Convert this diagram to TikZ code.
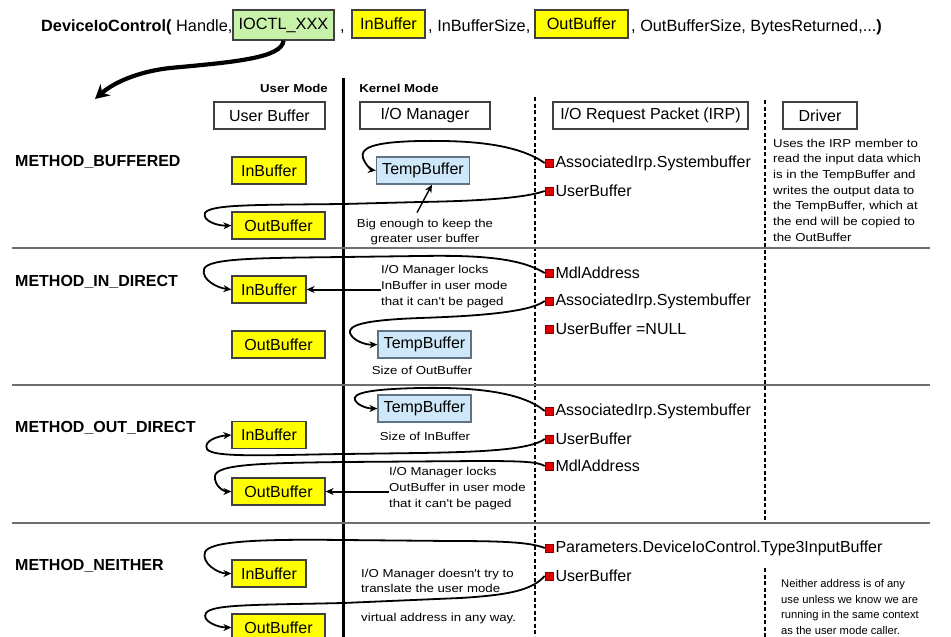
\documentclass[tikz,border=0pt]{standalone}
\usepackage{fontspec}
\setmainfont{Liberation Sans}
\newfontfamily\notefont[FakeStretch=1.15]{Liberation Sans}
\usetikzlibrary{arrows.meta}
\definecolor{bufyellow}{RGB}{255,255,0}
\definecolor{ctlgreen}{RGB}{200,242,170}
\definecolor{tmpblue}{RGB}{206,232,250}
\definecolor{tmpedge}{RGB}{95,115,135}
\definecolor{sepgray}{RGB}{110,110,110}
\definecolor{irpred}{RGB}{225,0,0}

\tikzset{
  title/.style={font=\fontsize{16.3}{19}\selectfont, inner sep=0pt, anchor=base west},
  main/.style={font=\fontsize{16}{19}\selectfont},
  note/.style={font=\notefont\fontsize{11.5}{15.7}\selectfont, inner sep=0pt, align=left},
  boxed/.style={main, draw=black!75, line width=1.2pt, minimum height=27pt, inner sep=0pt},
  ybuf/.style={boxed, fill=bufyellow},
  inbuf/.style={ybuf, minimum width=74pt},
  outbuf/.style={ybuf, minimum width=93pt},
  tmpbuf/.style={boxed, fill=tmpblue, draw=tmpedge, minimum width=93pt},
  header/.style={boxed, fill=white},
  method/.style={font=\fontsize{16}{19}\selectfont\bfseries, anchor=west, inner sep=0pt},
  sq/.style={draw=red!50!black, fill=irpred, minimum size=8pt, inner sep=0pt, line width=0.6pt},
  member/.style={main, anchor=west, inner sep=0pt, xshift=2pt},
  link/.style={line width=1.8pt, -{Stealth[length=8pt,width=7pt]}},
  sep/.style={sepgray, line width=2pt},
  lane/.style={line width=1.8pt, dash pattern=on 4pt off 2.5pt},
}

\begin{document}
\begin{tikzpicture}[x=1pt,y=-1pt]
\useasboundingbox (0,0) rectangle (951,637);

% ---- the call signature ----
\node[title, font=\fontsize{16.3}{19}\selectfont\bfseries] (callname) at (41,31) {DeviceIoControl(};
\node[title] (handle) at (176,31) {Handle,};
\node[boxed, fill=ctlgreen, minimum width=101pt, minimum height=30pt, font=\fontsize{16.3}{19}\selectfont] (ioctl) at (283.5,25) {IOCTL\_XXX};
\node[title] (comma1) at (340,31) {,};
\node[ybuf, minimum width=73pt, minimum height=28pt, font=\fontsize{16.3}{19}\selectfont] (inb0) at (388.5,24) {InBuffer};
\node[title] (insize) at (428,31) {, InBufferSize,};
\node[ybuf, minimum width=93pt, minimum height=28pt, font=\fontsize{16.3}{19}\selectfont] (outb0) at (581.5,24) {OutBuffer};
\node[title] (rest) at (631,31) {, OutBufferSize, BytesReturned,...\textbf{)}};

\coordinate (callflow) at (95,99);
\draw[line width=4.2pt, -{Stealth[length=14pt,width=15pt]}]
  (ioctl.south) .. controls (282,58) and (235,62) .. (170,68)
  .. controls (135,72) and (112,84) .. (callflow);

% ---- mode labels and column headers ----
\node[note, font=\notefont\fontsize{11.5}{14}\selectfont\bfseries] (umode) at (294,88) {User Mode};
\node[note, font=\notefont\fontsize{11.5}{14}\selectfont\bfseries] (kmode) at (399,88) {Kernel Mode};

\node[header, minimum width=111pt] (huser) at (269.5,115.5) {User Buffer};
\node[header, minimum width=130pt] (hiom) at (425,115.5) {I/O Manager};
\node[header, minimum width=195pt] (hirp) at (650.5,115.5) {I/O Request Packet (IRP)};
\node[header, minimum width=74pt] (hdrv) at (820,115.5) {Driver};

% ---- lane dividers ----
\draw[line width=3pt] (343,78) -- (343,637);
\draw[lane] (535,97) -- (535,637);
\draw[lane] (765,100) -- (765,524);
\draw[lane] (765,568) -- (765,637);

% ---- method separators ----
\draw[sep] (12,248) -- (930,248);
\draw[sep] (12,385) -- (930,385);
\draw[sep] (12,523) -- (930,523);

% ---- method names ----
\node[method] (mbuf) at (15,162) {METHOD\_BUFFERED};
\node[method] (min) at (15,282) {METHOD\_IN\_DIRECT};
\node[method] (mout) at (15,428) {METHOD\_OUT\_DIRECT};
\node[method] (mnei) at (15,566) {METHOD\_NEITHER};

% ================= METHOD_BUFFERED =================
\node[inbuf] (ib1) at (269,170.5) {InBuffer};
\node[outbuf] (ob1) at (278.5,225.5) {OutBuffer};
\node[tmpbuf] (tb1) at (423,170.5) {TempBuffer};
\node[sq] (a1) at (549,163) {};
\node[member] (a1t) at (a1.east) {AssociatedIrp.Systembuffer};
\node[sq] (u1) at (549,191) {};
\node[member] (u1t) at (u1.east) {UserBuffer};
\node[note, align=center] (bigtxt) at (425,232) {Big enough to keep the\\greater user buffer};
\node[note, anchor=west] (drv1) at (773,190) {Uses the IRP member to\\read the input data which\\is in the TempBuffer and\\writes the output data to\\the TempBuffer, which at\\the end will be copied to\\the OutBuffer};

\draw[link] (a1.west) .. controls (520,146) and (480,140) .. (420,141)
  .. controls (372,142) and (360,148) .. (363,158)
  .. controls (366,166) and (372,170) .. (tb1.west);
\draw[link] (u1.west) .. controls (525,198) and (480,201) .. (420,202)
  -- (343,204) .. controls (260,205) and (210,204) .. (205,213)
  .. controls (202,221) and (218,226) .. (ob1.west);
\draw[link, line width=1.4pt] ([shift={(-8pt,6pt)}]bigtxt.north) -- ([xshift=9pt]tb1.south);

% ================= METHOD_IN_DIRECT =================
\node[inbuf] (ib2) at (269,289.5) {InBuffer};
\node[outbuf] (ob2) at (278.5,344.5) {OutBuffer};
\node[tmpbuf] (tb2) at (424.5,344.5) {TempBuffer};
\node[sq] (m2) at (549,273) {};
\node[member] (m2t) at (m2.east) {MdlAddress};
\node[sq] (a2) at (549,301) {};
\node[member] (a2t) at (a2.east) {AssociatedIrp.Systembuffer};
\node[sq] (u2) at (549,329) {};
\node[member] (u2t) at (u2.east) {UserBuffer =NULL};
\node[note, anchor=west] (lock2) at (381,286.5) {I/O Manager locks\\InBuffer in user mode\\that it can't be paged};
\node[note] (tsz2) at (422,370) {Size of OutBuffer};

\draw[link] (m2.west) .. controls (520,258) and (480,255) .. (420,256)
  -- (343,257) .. controls (260,258) and (208,258) .. (204,269)
  .. controls (201,280) and (218,288) .. (ib2.west);
\draw[link, line width=2pt] (lock2.west |- ib2.east) -- (ib2.east);
\draw[link] (a2.west) .. controls (530,312) and (480,316) .. (420,318)
  .. controls (365,320) and (348,325) .. (350,333)
  .. controls (353,341) and (366,345) .. (tb2.west);

% ================= METHOD_OUT_DIRECT =================
\node[tmpbuf] (tb3) at (424.5,408.5) {TempBuffer};
\node[note] (tsz3) at (425,436) {Size of InBuffer};
\node[inbuf] (ib3) at (269,435) {InBuffer};
\node[outbuf] (ob3) at (278.5,491.5) {OutBuffer};
\node[sq] (a3) at (549,411) {};
\node[member] (a3t) at (a3.east) {AssociatedIrp.Systembuffer};
\node[sq] (u3) at (549,439) {};
\node[member] (u3t) at (u3.east) {UserBuffer};
\node[sq] (m3) at (549,466) {};
\node[member] (m3t) at (m3.east) {MdlAddress};
\node[note, anchor=west] (lock3) at (389,488.5) {I/O Manager locks\\OutBuffer in user mode\\that it can't be paged};

\draw[link] (a3.west) .. controls (522,392) and (475,387) .. (420,388)
  .. controls (370,389) and (352,393) .. (355,400)
  .. controls (358,406) and (368,408.5) .. (tb3.west);
\draw[link] (u3.west) .. controls (530,450) and (480,452) .. (420,453)
  -- (343,454) .. controls (270,455) and (212,458) .. (207,449)
  .. controls (203,441) and (218,436) .. (ib3.west);
\draw[link] (m3.west) .. controls (538,462) and (525,461) .. (480,461)
  -- (343,462) .. controls (265,463) and (216,464) .. (215,476)
  .. controls (214,486) and (224,491.5) .. (ob3.west);
\draw[link, line width=2pt] (lock3.west |- ob3.east) -- (ob3.east);

% ================= METHOD_NEITHER =================
\node[inbuf] (ib4) at (269,573.5) {InBuffer};
\node[outbuf] (ob4) at (278.5,627.5) {OutBuffer};
\node[sq] (p4) at (549,548) {};
\node[member] (p4t) at (p4.east) {Parameters.DeviceIoControl.Type3InputBuffer};
\node[sq] (u4) at (549,576) {};
\node[member] (u4t) at (u4.east) {UserBuffer};
\node[note, anchor=west] (nomap) at (361,581) {I/O Manager doesn't try to\\translate the user mode};
\node[note, anchor=west] (nomap2) at (361,619) {virtual address in any way.};
\node[note, anchor=west, font=\fontsize{11.2}{15.9}\selectfont] (drv4) at (781,607) {Neither address is of any\\use unless we know we are\\running in the same context\\as the user mode caller.};

\draw[link] (p4.west) .. controls (530,542) and (500,541) .. (450,541)
  -- (343,540) .. controls (260,539) and (210,541) .. (205,552)
  .. controls (201,563) and (218,573.5) .. (ib4.west);
\draw[link] (u4.west) .. controls (532,590) and (510,595) .. (460,598)
  -- (343,603) .. controls (260,605) and (212,604) .. (206,613)
  .. controls (201,621) and (218,627.5) .. (ob4.west);

\end{tikzpicture}
\end{document}
